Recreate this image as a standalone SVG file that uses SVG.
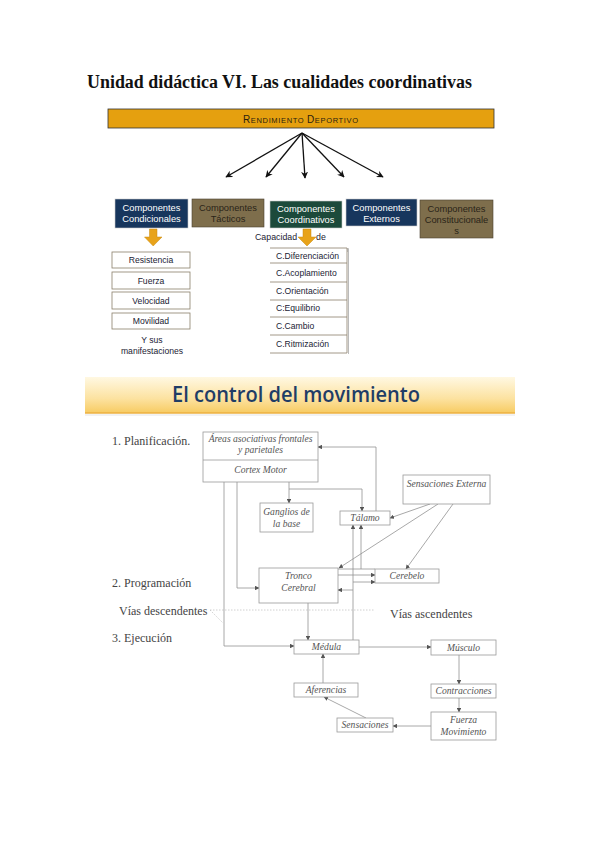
<svg xmlns="http://www.w3.org/2000/svg" width="599" height="848" viewBox="0 0 599 848">
<style>
.title{font-family:"Liberation Serif",serif;font-weight:bold;font-size:18px;fill:#111}
.comp{font-family:"Liberation Sans",Arial,sans-serif;font-size:9.3px;text-anchor:middle}
.wt{fill:#fff}
.dk{fill:#2a2418}
.lst{font-family:"Liberation Sans",Arial,sans-serif;font-size:8.6px;fill:#1a2233}
.lbox{fill:#fff;stroke:#8a7f6a;stroke-width:0.8}
.bx{fill:#fff;stroke:#9a9a9a;stroke-width:0.8}
.it{font-family:"Liberation Serif",serif;font-style:italic;font-size:9.6px;fill:#555;text-anchor:middle}
.lab{font-family:"Liberation Serif",serif;font-size:12px;fill:#444}
.cn{fill:none;stroke:#929292;stroke-width:0.8}
.blk{fill:none;stroke:#111;stroke-width:1.3}
.dot{fill:none;stroke:#c4c4c4;stroke-width:0.8;stroke-dasharray:1.5 1.5}
.oarr{fill:#E8A31A;stroke:#C88A10;stroke-width:0.5}
</style>
<defs>
<marker id="ab" viewBox="0 0 10 10" refX="9" refY="5" markerWidth="7" markerHeight="7" markerUnits="userSpaceOnUse" orient="auto">
<path d="M0,0 L10,5 L0,10 L3,5 z" fill="#111"/>
</marker>
<marker id="ag" viewBox="0 0 10 10" refX="9" refY="5" markerWidth="4.5" markerHeight="4.5" markerUnits="userSpaceOnUse" orient="auto">
<path d="M0,0 L10,5 L0,10 z" fill="#555"/>
</marker>
<linearGradient id="hg" x1="0" y1="0" x2="0" y2="1">
<stop offset="0" stop-color="#FFF8E2"/>
<stop offset="0.6" stop-color="#FCE2A0"/>
<stop offset="1" stop-color="#F7CB62"/>
</linearGradient>
</defs>

<rect width="599" height="848" fill="#fff"/>

<text class="title" x="87" y="88" textLength="385" lengthAdjust="spacingAndGlyphs">Unidad didáctica VI. Las cualidades coordinativas</text>

<g id="rendimiento">
<rect x="108" y="109" width="386" height="19" fill="#E5A00F" stroke="#333" stroke-width="0.8"/>
<text x="243" y="122.5" font-family="Liberation Sans,Arial,sans-serif" fill="#2a2010" textLength="115" lengthAdjust="spacing"><tspan font-size="10">R</tspan><tspan font-size="7.5">ENDIMIENTO </tspan><tspan font-size="10">D</tspan><tspan font-size="7.5">EPORTIVO</tspan></text>
</g>

<g id="top-connectors">
<path class="blk" d="M302,133 L226,177" marker-end="url(#ab)"/>
<path class="blk" d="M302,133 L266,177" marker-end="url(#ab)"/>
<path class="blk" d="M302,133 L305,178" marker-end="url(#ab)"/>
<path class="blk" d="M302,133 L344,177" marker-end="url(#ab)"/>
<path class="blk" d="M302,133 L383,177" marker-end="url(#ab)"/>
</g>

<g id="c-condicionales">
<rect x="115" y="199" width="73" height="29" fill="#17365D" stroke="#c9c9c9" stroke-width="0.6"/>
<text class="comp wt" x="151.5" y="211">Componentes</text>
<text class="comp wt" x="151.5" y="221.5">Condicionales</text>
</g>
<g id="c-tacticos">
<rect x="192" y="199" width="72" height="28" fill="#7E6E4C" stroke="#4a4030" stroke-width="0.6"/>
<text class="comp dk" x="228" y="211">Componentes</text>
<text class="comp dk" x="228" y="221.5">Tácticos</text>
</g>
<g id="c-coordinativos">
<rect x="270" y="201" width="72" height="27" fill="#1C4A3B" stroke="#c9c9c9" stroke-width="0.6"/>
<text class="comp wt" x="306" y="212">Componentes</text>
<text class="comp wt" x="306" y="222.5">Coordinativos</text>
</g>
<g id="c-externos">
<rect x="346" y="199" width="71" height="27" fill="#17365D" stroke="#c9c9c9" stroke-width="0.6"/>
<text class="comp wt" x="381.5" y="211">Componentes</text>
<text class="comp wt" x="381.5" y="221.5">Externos</text>
</g>
<g id="c-constitucionales">
<rect x="420" y="200" width="73" height="38" fill="#7E6E4C" stroke="#4a4030" stroke-width="0.6"/>
<text class="comp dk" x="456.5" y="212">Componentes</text>
<text class="comp dk" x="456.5" y="223">Constitucionale</text>
<text class="comp dk" x="456.5" y="233.5">s</text>
</g>

<g id="orange-arrows">
<path class="oarr" d="M149.5,229 H157 V237 H162 L153.2,246 L144.5,237 H149.5 Z"/>
<path class="oarr" d="M303,229 H311 V237 H316 L307,246 L298,237 H303 Z"/>
</g>
<text x="255" y="240" font-family="Liberation Sans,Arial,sans-serif" font-size="8.8" fill="#1a2233">Capacidad</text>
<text x="316" y="240" font-family="Liberation Sans,Arial,sans-serif" font-size="8.8" fill="#1a2233">de</text>
<line x1="348" y1="248" x2="348" y2="252" stroke="#555" stroke-width="0.6"/>

<g id="list-condicionales">
<rect class="lbox" x="112" y="252" width="78" height="16"/>
<text class="lst" x="151" y="263" text-anchor="middle">Resistencia</text>
<rect class="lbox" x="112" y="272" width="78" height="17"/>
<text class="lst" x="151" y="283.5" text-anchor="middle">Fuerza</text>
<rect class="lbox" x="112" y="292" width="78" height="17"/>
<text class="lst" x="151" y="303.5" text-anchor="middle">Velocidad</text>
<rect class="lbox" x="112" y="313" width="78" height="16"/>
<text class="lst" x="151" y="324" text-anchor="middle">Movilidad</text>
<text class="lst" x="152" y="343" text-anchor="middle">Y sus</text>
<text class="lst" x="152" y="354" text-anchor="middle">manifestaciones</text>
</g>

<g id="list-coordinativas">
<path d="M270,248 H347 V353 H270 M270,263 H347 M270,282 H347 M270,300 H347 M270,317 H347 M270,335 H347" fill="none" stroke="#8a7f6a" stroke-width="0.8"/>
<line x1="348.5" y1="249" x2="348.5" y2="354" stroke="#bbb" stroke-width="1"/>
<text class="lst" x="276" y="259">C.Diferenciación</text>
<text class="lst" x="276" y="276">C.Acoplamiento</text>
<text class="lst" x="276" y="294">C.Orientación</text>
<text class="lst" x="276" y="311">C:Equilibrio</text>
<text class="lst" x="276" y="329">C.Cambio</text>
<text class="lst" x="276" y="347">C.Ritmización</text>
</g>

<g id="control-banner">
<rect x="85" y="377" width="430" height="36" fill="url(#hg)"/>
<line x1="85" y1="413" x2="515" y2="413" stroke="#EDB040" stroke-width="1.5"/>
<line x1="85" y1="415" x2="515" y2="415" stroke="#eeeeee" stroke-width="1.5"/>
<text x="172" y="402" font-family="Open Sans,Liberation Sans,sans-serif" font-weight="600" font-size="21" fill="#1F3D66" textLength="248" lengthAdjust="spacingAndGlyphs">El control del movimiento</text>
</g>

<g id="labels">
<text class="lab" x="112" y="445">1. Planificación.</text>
<text class="lab" x="112" y="587">2. Programación</text>
<text class="lab" x="119" y="615">Vías descendentes</text>
<text class="lab" x="112" y="642">3. Ejecución</text>
<text class="lab" x="390" y="618">Vías ascendentes</text>
</g>

<g id="bottom-connectors">
<path class="dot" d="M210,610 H375 M210,610 L223,623"/>
<path class="cn" d="M224,482 V646 H294" marker-end="url(#ag)"/>
<path class="cn" d="M237,482 V588 H259" marker-end="url(#ag)"/>
<path class="cn" d="M289,482 V503" marker-end="url(#ag)"/>
<path class="cn" d="M289,489 H362 V511" marker-end="url(#ag)"/>
<path class="cn" d="M376,511 V447 H318" marker-end="url(#ag)"/>
<path class="cn" d="M430,504 L390,518" marker-end="url(#ag)"/>
<path class="cn" d="M438,504 L339,568" marker-end="url(#ag)"/>
<path class="cn" d="M453,504 L406,569" marker-end="url(#ag)"/>
<path class="cn" d="M353,640 V525" marker-end="url(#ag)"/>
<path class="cn" d="M361,569 V525" marker-end="url(#ag)"/>
<path class="cn" d="M338,569 H375"/>
<path class="cn" d="M338,575 H375" marker-end="url(#ag)"/>
<path class="cn" d="M353,582 H375" marker-end="url(#ag)"/>
<path class="cn" d="M353,590 H338" marker-end="url(#ag)"/>
<path class="cn" d="M308,603 V640" marker-end="url(#ag)"/>
<path class="cn" d="M359,647 H431" marker-end="url(#ag)"/>
<path class="cn" d="M459,655 V684" marker-end="url(#ag)"/>
<path class="cn" d="M459,698 V712" marker-end="url(#ag)"/>
<path class="cn" d="M431,726 H393" marker-end="url(#ag)"/>
<path class="cn" d="M366,718 L324,697" marker-end="url(#ag)"/>
<path class="cn" d="M323,683 V654" marker-end="url(#ag)"/>
</g>

<g id="areas">
<rect class="bx" x="203" y="432" width="115" height="50"/>
<line x1="203" y1="460" x2="318" y2="460" stroke="#9a9a9a" stroke-width="0.8"/>
<text class="it" x="260.5" y="441.5">Áreas asociativas frontales</text>
<text class="it" x="260.5" y="453">y parietales</text>
<text class="it" x="260.5" y="472.5">Cortex Motor</text>
</g>
<g id="ganglios">
<rect class="bx" x="260" y="503" width="53" height="29"/>
<text class="it" x="286.5" y="515">Ganglios de</text>
<text class="it" x="286.5" y="527">la base</text>
</g>
<g id="talamo">
<rect class="bx" x="340" y="511" width="50" height="14"/>
<text class="it" x="365" y="521">Tálamo</text>
</g>
<g id="sens-externa">
<rect class="bx" x="403" y="475" width="87" height="29"/>
<text class="it" x="446.5" y="487">Sensaciones Externa</text>
</g>
<g id="tronco">
<rect class="bx" x="259" y="568" width="79" height="35"/>
<text class="it" x="298.5" y="579">Tronco</text>
<text class="it" x="298.5" y="591">Cerebral</text>
</g>
<g id="cerebelo">
<rect class="bx" x="375" y="569" width="64" height="14"/>
<text class="it" x="407" y="579">Cerebelo</text>
</g>
<g id="medula">
<rect class="bx" x="294" y="640" width="65" height="14"/>
<text class="it" x="326.5" y="650">Médula</text>
</g>
<g id="musculo">
<rect class="bx" x="431" y="640" width="65" height="15"/>
<text class="it" x="463.5" y="650.5">Músculo</text>
</g>
<g id="aferencias">
<rect class="bx" x="294" y="683" width="64" height="14"/>
<text class="it" x="326" y="693">Aferencias</text>
</g>
<g id="contracciones">
<rect class="bx" x="431" y="684" width="65" height="14"/>
<text class="it" x="463.5" y="694">Contracciones</text>
</g>
<g id="fuerza-mov">
<rect class="bx" x="431" y="712" width="65" height="28"/>
<text class="it" x="463.5" y="723">Fuerza</text>
<text class="it" x="463.5" y="735">Movimiento</text>
</g>
<g id="sensaciones">
<rect class="bx" x="337" y="718" width="56" height="14"/>
<text class="it" x="365" y="728">Sensaciones</text>
</g>
</svg>
